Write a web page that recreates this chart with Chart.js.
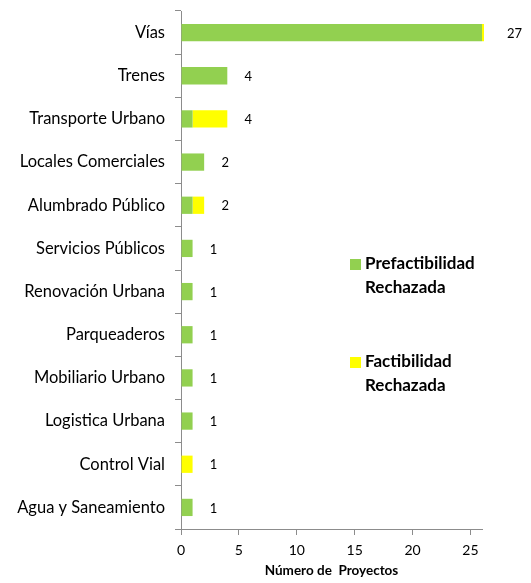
<!DOCTYPE html>
<html>
<head>
<meta charset="utf-8">
<script src="https://cdn.jsdelivr.net/npm/chart.js@4"></script>
<style>
  html, body { margin: 0; padding: 0; background: #fff; }
  #wrap { width: 531px; height: 583px; }
</style>
</head>
<body>
<div id="wrap"><canvas id="proyectosChart" width="531" height="583"></canvas></div>
<script>
// --- datos ---
const categorias = ['Vías', 'Trenes', 'Transporte Urbano', 'Locales Comerciales', 'Alumbrado Público',
    'Servicios Públicos', 'Renovación Urbana', 'Parqueaderos', 'Mobiliario Urbano',
    'Logistica Urbana', 'Control Vial', 'Agua y Saneamiento'];
const prefactibilidad = [26, 4, 1, 2, 1, 1, 1, 1, 1, 1, 0, 1];
const factibilidad = [1, 0, 3, 0, 1, 0, 0, 0, 0, 0, 1, 0];
const totales = [27, 4, 4, 2, 2, 1, 1, 1, 1, 1, 1, 1];
const xTicks = [0, 5, 10, 15, 20, 25];

const FONT = 'Lato, "Open Sans", sans-serif';

document.addEventListener("DOMContentLoaded", () => {
    const ctx = document.getElementById('proyectosChart').getContext('2d');

    // totales a la derecha de cada barra + leyenda en dos lineas
    const etiquetas = {
        id: 'etiquetas',
        afterDraw(chart) {
            const {ctx, scales: {x, y}} = chart;
            ctx.save();
            ctx.fillStyle = '#000';
            ctx.font = '13px ' + FONT;
            ctx.textAlign = 'center';
            ctx.textBaseline = 'middle';
            totales.forEach((t, i) => {
                ctx.fillText(t, x.getPixelForValue(t) + 21, y.getPixelForValue(i) + 1);
            });

            const items = [
                {color: '#92d050', lines: ['Prefactibilidad', 'Rechazada'], top: 264},
                {color: '#ffff00', lines: ['Factibilidad', 'Rechazada'], top: 362}
            ];
            ctx.font = 'bold 17px ' + FONT;
            ctx.textAlign = 'left';
            items.forEach(it => {
                ctx.fillStyle = it.color;
                ctx.fillRect(350, it.top - 5, 11, 11);
                ctx.fillStyle = '#000';
                it.lines.forEach((l, k) => ctx.fillText(l, 365, it.top + k * 24));
            });
            ctx.restore();
        }
    };

    new Chart(ctx, {
        type: 'bar',
        data: {
            labels: categorias,
            datasets: [{
                label: 'Prefactibilidad Rechazada',
                data: prefactibilidad,
                backgroundColor: '#92d050',
                barPercentage: 0.4,
                categoryPercentage: 1,
                clip: {left: 0, top: 0, right: 2, bottom: 0}
            }, {
                label: 'Factibilidad Rechazada',
                data: factibilidad,
                backgroundColor: '#ffff00',
                barPercentage: 0.4,
                categoryPercentage: 1,
                clip: {left: 0, top: 0, right: 2, bottom: 0}
            }]
        },
        options: {
            indexAxis: 'y',
            responsive: false,
            animation: false,
            layout: { padding: { top: 11, right: 49, left: 0, bottom: 0 } },
            plugins: {
                legend: { display: false },
                tooltip: { enabled: false }
            },
            scales: {
                x: {
                    stacked: true,
                    min: 0,
                    max: 26,
                    afterBuildTicks(scale) {
                        scale.ticks = xTicks.map(v => ({value: v}));
                    },
                    afterFit(scale) { scale.height = 54; },
                    grid: {
                        drawOnChartArea: false,
                        tickLength: 6,
                        color: '#8c8c8c'
                    },
                    border: { color: '#8c8c8c' },
                    ticks: {
                        color: '#000',
                        font: { size: 14, family: FONT },
                        padding: 7
                    },
                    title: {
                        display: true,
                        text: 'Número de  Proyectos',
                        color: '#000',
                        font: { size: 13.5, weight: 'bold', family: FONT },
                        padding: { top: 0 }
                    }
                },
                y: {
                    stacked: true,
                    afterFit(scale) {
                        scale.width = 181;
                        scale.paddingTop = 0;
                        scale.paddingBottom = 0;
                    },
                    grid: {
                        drawOnChartArea: false,
                        offset: true,
                        tickLength: 6,
                        color: '#8c8c8c'
                    },
                    border: { color: '#8c8c8c' },
                    ticks: {
                        color: '#000',
                        font: { size: 16.5, family: FONT },
                        padding: 10
                    }
                }
            }
        },
        plugins: [etiquetas]
    });
});
</script>
</body>
</html>
